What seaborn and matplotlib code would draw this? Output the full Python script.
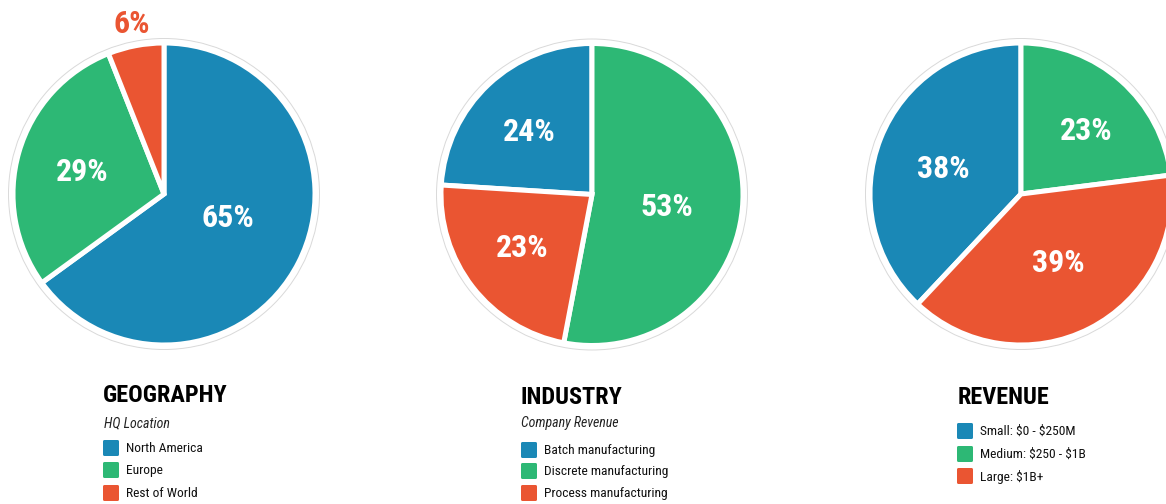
import numpy as np
import matplotlib
matplotlib.use("Agg")
import matplotlib.pyplot as plt
from matplotlib import font_manager
from matplotlib.patches import Circle, FancyBboxPatch
import seaborn as sns

# ---- data ----
geo_labels = ["North America", "Europe", "Rest of World"]
geo_values = [65, 29, 6]

ind_labels = ["Batch manufacturing", "Discrete manufacturing", "Process manufacturing"]
ind_values = [24, 53, 23]

rev_labels = ["Small: $0 - $250M", "Medium: $250 - $1B", "Large: $1B+"]
rev_values = [38, 23, 39]

titles = ["GEOGRAPHY", "INDUSTRY", "REVENUE"]
subtitles = ["HQ Location", "Company Revenue", ""]

# ---- style ----
sns.set_theme(style="white")
palette = sns.color_palette(["#1A88B6", "#2DB875", "#EA5532"])

W, H = 1166, 504


def pick_font():
    names = {f.name for f in font_manager.fontManager.ttflist}
    for cand in ["Roboto Condensed", "Liberation Sans Narrow", "Open Sans Condensed"]:
        if cand in names:
            return {"family": cand}
    return {"family": "DejaVu Sans", "stretch": "condensed"}


FONT = pick_font()

fig = plt.figure(figsize=(W / 100, H / 100), dpi=100)
ax = fig.add_axes([0, 0, 1, 1])


def py(y):
    # pixel row (top-down) -> axis y (bottom-up)
    return H - y


# pie layout: centre (px), start-angle rule, label placement
# (distance as fraction of radius, angular nudge from the wedge middle in degrees)
R = 151
panels = [
    dict(values=geo_values, labels=geo_labels, cx=164, cy=194, first_ends_top=False,
         dist=[0.45, 0.56, 1.145], nudge=[6, 1.0, 0], inside=[True, True, False],
         tx=103, ty=396, sub_y=423, leg_x=103, leg_y=[448, 470, 493]),
    dict(values=ind_values, labels=ind_labels, cx=592, cy=194.5, first_ends_top=True,
         dist=[0.59, 0.5, 0.58], nudge=[2, -4.2, -0.5], inside=[True, True, True],
         tx=520, ty=398, sub_y=423, leg_x=521, leg_y=[450, 471, 493]),
    dict(values=rev_values, labels=rev_labels, cx=1021, cy=194, first_ends_top=True,
         dist=[0.54, 0.6, 0.52], nudge=[3.6, -4.5, 1], inside=[True, True, True],
         tx=958, ty=397, sub_y=None, leg_x=957, leg_y=[431, 454, 476]),
]

for i, p in enumerate(panels):
    vals = p["values"]
    total = float(sum(vals))
    start = 90 + vals[0] / total * 360 if p["first_ends_top"] else 90
    centre = (p["cx"], py(p["cy"]))

    # faint outer ring
    ax.add_patch(Circle(centre, 155.5, facecolor="white", edgecolor="#d9d9d9",
                        linewidth=0.7, zorder=0))

    wedges, _ = ax.pie(vals, colors=palette, startangle=start, counterclock=False,
                       center=centre, radius=R,
                       wedgeprops=dict(edgecolor="white", linewidth=3.6))

    for w, v, d, n, inside in zip(wedges, vals, p["dist"], p["nudge"], p["inside"]):
        mid = np.deg2rad((w.theta1 + w.theta2) / 2 + n)
        x = centre[0] + d * R * np.cos(mid)
        y = centre[1] + d * R * np.sin(mid)
        ax.text(x, y, f"{v}%", ha="center", va="center", fontsize=23,
                fontweight="bold", color="white" if inside else w.get_facecolor(),
                zorder=5, **FONT)

    # title / subtitle / legend
    ax.text(p["tx"], py(p["ty"]), titles[i], ha="left", va="center", fontsize=17.5,
            fontweight="bold", color="black", **FONT)
    if p["sub_y"] is not None and subtitles[i]:
        ax.text(p["tx"] + 1, py(p["sub_y"]), subtitles[i], ha="left", va="center",
                fontsize=10, style="italic", color="#222222", **FONT)
    for lab, col, ly in zip(p["labels"], palette, p["leg_y"]):
        ax.add_patch(FancyBboxPatch((p["leg_x"], py(ly) - 8), 16, 16,
                                    boxstyle="round,pad=0,rounding_size=1.5",
                                    facecolor=col, edgecolor="none"))
        ax.text(p["leg_x"] + 23, py(ly) - 0.5, lab, ha="left", va="center", fontsize=9.7,
                color="#111111", parse_math=False, **FONT)

ax.set_xlim(0, W)
ax.set_ylim(0, H)
ax.set_aspect("equal")
ax.axis("off")

fig.savefig("out.png", dpi=100, facecolor="white")
